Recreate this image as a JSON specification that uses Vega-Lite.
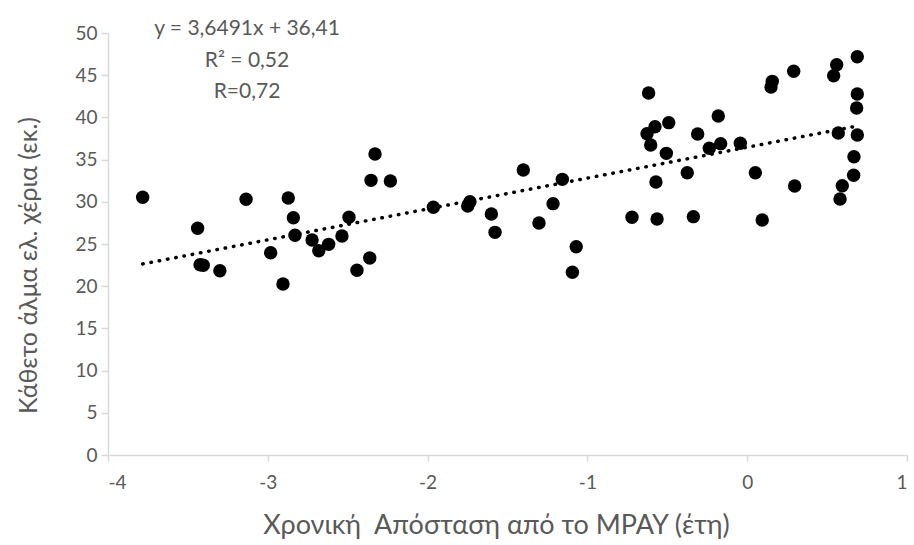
{
  "$schema": "https://vega.github.io/schema/vega-lite/v6.json",
  "width": 799,
  "height": 422,
  "autosize": {"type": "none"},
  "padding": {"left": 108, "top": 33, "right": 7, "bottom": 90},
  "background": "white",
  "config": {
    "view": {"stroke": null},
    "font": "Lato",
    "axis": {
      "grid": false,
      "domainColor": "#d9d9d9",
      "tickColor": "#d9d9d9",
      "labelColor": "#595959",
      "titleColor": "#595959",
      "labelFont": "Lato",
      "titleFont": "Lato",
      "labelFontSize": 19,
      "titleFontWeight": "normal",
      "domainWidth": 1.5,
      "tickWidth": 1.5
    }
  },
  "datasets": {
    "points": [
      {"x": -3.783, "y": 30.53}, {"x": -3.439, "y": 26.86}, {"x": -3.424, "y": 22.55}, {"x": -3.404, "y": 22.48},
      {"x": -3.30, "y": 21.84}, {"x": -3.136, "y": 30.3}, {"x": -2.982, "y": 23.97}, {"x": -2.905, "y": 20.26},
      {"x": -2.872, "y": 30.45}, {"x": -2.84, "y": 28.12}, {"x": -2.83, "y": 26.03}, {"x": -2.723, "y": 25.47},
      {"x": -2.681, "y": 24.21}, {"x": -2.619, "y": 24.96}, {"x": -2.536, "y": 25.95}, {"x": -2.492, "y": 28.16},
      {"x": -2.329, "y": 35.66}, {"x": -2.354, "y": 32.54}, {"x": -2.233, "y": 32.46}, {"x": -2.362, "y": 23.34},
      {"x": -2.442, "y": 21.88}, {"x": -1.964, "y": 29.35}, {"x": -1.735, "y": 30.01}, {"x": -1.749, "y": 29.5},
      {"x": -1.601, "y": 28.55}, {"x": -1.578, "y": 26.38}, {"x": -1.401, "y": 33.77}, {"x": -1.215, "y": 29.78},
      {"x": -1.303, "y": 27.49}, {"x": -1.157, "y": 32.66}, {"x": -1.07, "y": 24.68}, {"x": -1.094, "y": 21.65},
      {"x": -0.721, "y": 28.16}, {"x": -0.617, "y": 42.89}, {"x": -0.627, "y": 38.07}, {"x": -0.577, "y": 38.9},
      {"x": -0.604, "y": 36.73}, {"x": -0.491, "y": 39.38}, {"x": -0.506, "y": 35.74}, {"x": -0.571, "y": 32.35},
      {"x": -0.564, "y": 27.96}, {"x": -0.337, "y": 28.24}, {"x": -0.375, "y": 33.45}, {"x": -0.31, "y": 38.03},
      {"x": -0.181, "y": 40.17}, {"x": -0.237, "y": 36.34}, {"x": -0.166, "y": 36.89}, {"x": -0.043, "y": 36.93},
      {"x": 0.051, "y": 33.45}, {"x": 0.094, "y": 27.84}, {"x": 0.157, "y": 44.27}, {"x": 0.149, "y": 43.6},
      {"x": 0.291, "y": 45.46}, {"x": 0.297, "y": 31.87}, {"x": 0.56, "y": 46.25}, {"x": 0.541, "y": 44.94},
      {"x": 0.689, "y": 47.19}, {"x": 0.689, "y": 42.77}, {"x": 0.685, "y": 41.11}, {"x": 0.57, "y": 38.15},
      {"x": 0.689, "y": 37.91}, {"x": 0.668, "y": 35.34}, {"x": 0.666, "y": 33.14}, {"x": 0.595, "y": 31.91},
      {"x": 0.581, "y": 30.33}
    ],
    "notes": [
      {"label": "y = 3,6491x + 36,41", "x": -3.13, "y": 50.5},
      {"label": "R² = 0,52", "x": -3.13, "y": 46.7},
      {"label": "R=0,72", "x": -3.13, "y": 43.0}
    ]
  },
  "layer": [
    {
      "data": {"name": "points"},
      "mark": {"type": "point", "shape": "circle", "filled": true, "color": "#000000", "size": 180, "opacity": 1},
      "encoding": {
        "x": {
          "field": "x", "type": "quantitative",
          "scale": {"domain": [-4, 1], "nice": false, "zero": false},
          "axis": {"values": [-4, -3, -2, -1, 0, 1], "labelExpr": "datum.value + ''", "title": "Χρονική \u00a0Απόσταση από το MPAY (έτη)", "titleFontSize": 27, "titleX": 388, "tickSize": 6, "labelPadding": 12, "titlePadding": 20}
        },
        "y": {
          "field": "y", "type": "quantitative",
          "scale": {"domain": [0, 50], "nice": false},
          "axis": {"values": [0, 5, 10, 15, 20, 25, 30, 35, 40, 45, 50], "title": "Κάθετο άλμα ελ. χέρια (εκ.)", "titleFontSize": 25, "titleY": 232, "tickSize": 7, "labelPadding": 4, "titlePadding": 33}
        }
      }
    },
    {
      "data": {"name": "points"},
      "transform": [{"regression": "y", "on": "x"}],
      "mark": {"type": "line", "color": "#000000", "strokeWidth": 3.5, "strokeDash": [0.5, 7.9], "strokeCap": "round"},
      "encoding": {
        "x": {"field": "x", "type": "quantitative"},
        "y": {"field": "y", "type": "quantitative"}
      }
    },
    {
      "data": {"name": "notes"},
      "mark": {"type": "text", "fontSize": 21, "color": "#595959", "align": "center", "baseline": "middle", "clip": false, "font": "Lato"},
      "encoding": {
        "x": {"field": "x", "type": "quantitative"},
        "y": {"field": "y", "type": "quantitative"},
        "text": {"field": "label"}
      }
    }
  ]
}
